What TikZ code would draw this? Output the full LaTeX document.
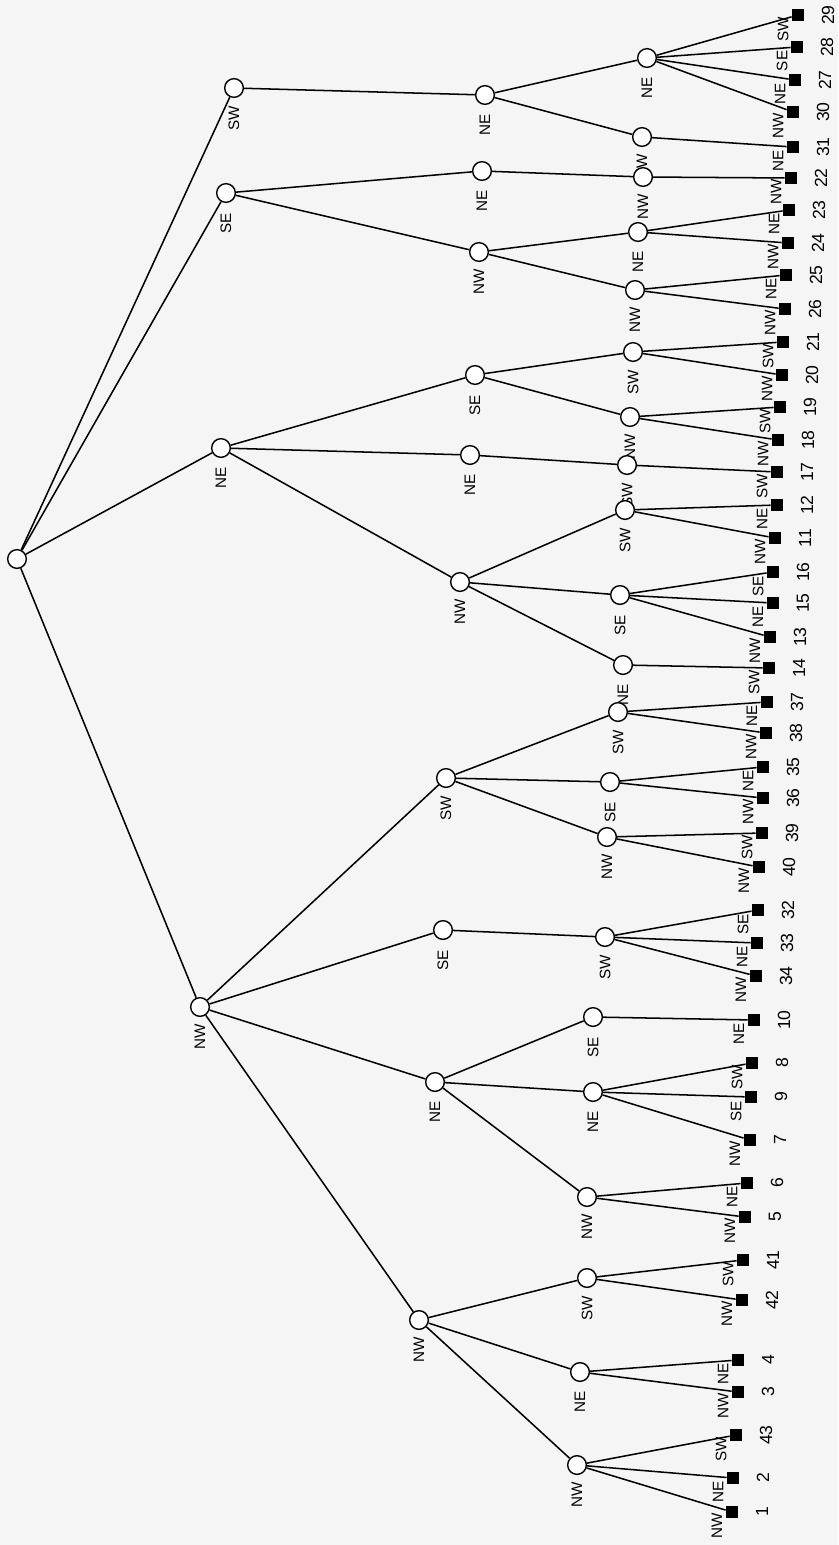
\documentclass[tikz,border=0pt]{standalone}
\usepackage{fontspec}
\setmainfont{Liberation Sans}
\usepackage{tikz}
\usetikzlibrary{positioning,calc}

\begin{document}
\begin{tikzpicture}[x=0.03cm, y=-0.03cm,
  vtx/.style={circle, draw, fill=white, line width=1.2pt, minimum size=0.56cm, inner sep=0pt},
  leaf/.style={rectangle, fill=black, minimum size=0.37cm, inner sep=0pt},
  dir/.style={rotate=90, inner sep=0pt, font=\fontsize{13}{13}\selectfont},
  num/.style={rotate=90, inner sep=0pt, font=\fontsize{15}{15}\selectfont},
  edge/.style={line width=1.3pt}]
% Page
\fill[black!4] (0,0) rectangle (838,1545);
\useasboundingbox (0,0) rectangle (838,1545);

% Inner vertices
\node[vtx] (r) at (17,559) {};
\foreach \n/\x/\y/\t in {a/234/88/SW, b/226/193/SE, c/221/448/NE, d/200/1007/NW,
    a1/485/95/NE, a11/647/58/NE, a12/642/137/NW,
    b1/482/171/NE, b2/479/252/NW, b11/643/177/NW, b21/638/232/NE, b22/635/290/NW,
    c1/475/375/SE, c2/470/455/NE, c3/460/582/NW,
    c11/633/352/SW, c12/630/417/NW, c21/627/465/SW,
    c31/625/510/SW, c32/620/595/SE, c33/623/665/NE,
    d1/446/778/SW, d2/443/930/SE, d3/435/1082/NE, d4/419/1320/NW,
    d11/618/712/SW, d12/610/782/SE, d13/607/837/NW, d21/605/937/SW,
    d31/593/1017/SE, d32/593/1092/NE, d33/587/1197/NW,
    d41/587/1278/SW, d42/580/1372/NE, d43/577/1465/NW}{
  \node[vtx] (\n) at (\x,\y) {};
  \path (\n) ++(0,30) node[dir] (\n-t) {\t};
}

% Branches between inner vertices
\foreach \p/\c in {r/a, r/b, r/c, r/d, a/a1, a1/a11, a1/a12,
    b/b1, b/b2, b1/b11, b2/b21, b2/b22,
    c/c1, c/c2, c/c3, c1/c11, c1/c12, c2/c21, c3/c31, c3/c32, c3/c33,
    d/d1, d/d2, d/d3, d/d4, d1/d11, d1/d12, d1/d13, d2/d21,
    d3/d31, d3/d32, d3/d33, d4/d41, d4/d42, d4/d43}
  \draw[edge] (\p) -- (\c);

% Terminal squares with numbers
\foreach \n/\x/\y/\t/\p in {29/798/15/SW/a11, 28/797/47/SE/a11, 27/795/80/NE/a11,
    30/793/112/NW/a11, 31/793/147/NE/a12, 22/791/178/NW/b11,
    23/789/210/NE/b21, 24/788/243/NW/b21, 25/786/275/NE/b22, 26/785/309/NW/b22,
    21/783/342/SW/c11, 20/782/375/NW/c11, 19/780/407/SW/c12, 18/778/440/NW/c12,
    17/777/472/SW/c21, 12/777/505/NE/c31, 11/775/538/NW/c31,
    16/773/572/SE/c32, 15/773/603/NE/c32, 13/770/637/NW/c32, 14/769/668/SW/c33,
    37/767/702/NE/d11, 38/766/733/NW/d11, 35/763/767/NE/d12, 36/763/798/NW/d12,
    39/762/833/SW/d13, 40/759/867/NW/d13,
    32/758/910/SE/d21, 33/757/943/NE/d21, 34/756/976/NW/d21,
    10/754/1020/NE/d31, 8/752/1063/SW/d32, 9/751/1097/SE/d32, 7/750/1140/NW/d32,
    6/747/1183/NE/d33, 5/745/1217/NW/d33, 41/743/1260/SW/d41, 42/742/1300/NW/d41,
    4/738/1360/NE/d42, 3/738/1392/NW/d42,
    43/736/1435/SW/d43, 2/733/1478/NE/d43, 1/732/1512/NW/d43}{
  \node[leaf] (l\n) at (\x,\y) {};
  \path (l\n) ++(-15,14) node[dir] (t\n) {\t};
  \path (l\n) ++(30,0) node[num] (n\n) {\n};
  \draw[edge] (\p) -- (l\n);
}
\end{tikzpicture}
\end{document}
